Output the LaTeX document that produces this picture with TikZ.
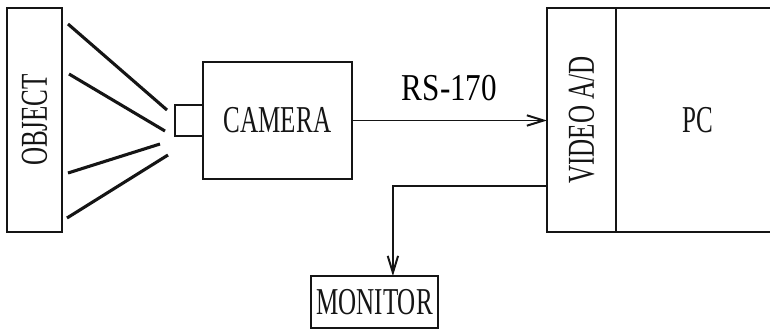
\documentclass[tikz,border=0pt]{standalone}
\usepackage{fontspec}
\usepackage{graphicx}
\newfontfamily\scanfont[FakeStretch=0.66]{Liberation Serif}
\newfontfamily\scanwidefont[FakeStretch=0.82]{Liberation Serif}
\usetikzlibrary{arrows.meta,positioning}
\definecolor{ink}{HTML}{151515}
\tikzset{
  >={Straight Barb[length=4.2mm,width=2.6mm]},
  every picture/.append style={font=\scanfont\fontsize{27}{27}\selectfont},
  block/.style={rectangle,draw=ink,line width=1.8pt,inner sep=0pt,outer sep=0pt,align=center,text=ink},
  ray/.style={draw=ink,line width=2.2pt},
  sigarrow/.style={->,draw=ink,line width=1.4pt},
}

\begin{document}
\begin{tikzpicture}[x=0.025cm,y=-0.025cm]
  \clip (0,0) rectangle (770,331);
  % object and light rays
  \node[block, minimum width=1.375cm, minimum height=5.6cm] (obj) at (34.5,120) {\rotatebox{90}{OBJECT}};
  \foreach \ya/\xa/\xb/\yb in {24/68/167/110, 74/69/165/131, 173/68/160/144, 218/67/168/155}
    \draw[ray] (\xa,\ya) -- (\xb,\yb);
  % camera with lens
  \node[block, minimum width=3.725cm, minimum height=2.925cm] (cam) at (277.5,120.5) {CAMERA};
  \node[block, minimum width=0.7cm, minimum height=0.775cm, anchor=east] (lens) at (cam.west) {};
  % capture board and pc
  \node[block, minimum width=1.725cm, minimum height=5.6cm] (ad) at (581.5,120) {\rotatebox{90}{VIDEO A/D}};
  \node[block, minimum width=4.1cm, minimum height=5.6cm, anchor=west] (pc) at (ad.east) {PC};
  \node[block, minimum width=3.175cm, minimum height=1.3cm] (mon) at (374.5,302) {MONITOR};
  % signals
  \draw[sigarrow] (cam.east) -- node[above=10pt, font=\scanwidefont\fontsize{27}{27}\selectfont] (rs) {RS-170} (cam.east -| ad.west);
  \coordinate (tap) at (ad.west |- 0,186);
  \draw[sigarrow] (tap) -| ([xshift=0.46cm]mon.north);
\end{tikzpicture}
\end{document}
